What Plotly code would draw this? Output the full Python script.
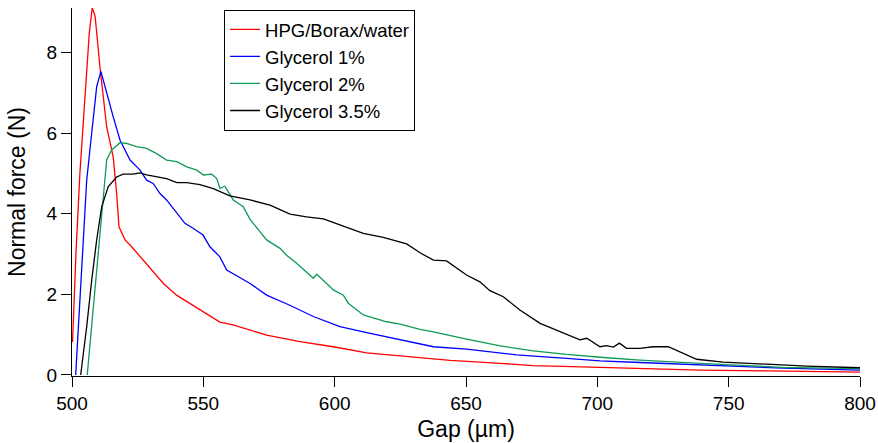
import plotly.graph_objects as go

# HPG/Borax/water
gap_hpg = [500.2, 501.5, 503.0, 505.0, 506.6, 507.7, 508.8, 510.7, 513.2, 515.7, 517.0, 517.9,
           520.2, 522.7, 527.1, 534.8, 539.8, 548.7, 556.3, 561.3, 574.1, 586.8, 599.5, 612.2,
           624.9, 632.5, 644.0, 663.0, 675.5, 701.0, 716.2, 739.0, 764.4, 800.0]
force_hpg = [0.82, 3.0, 5.0, 6.8, 8.5, 9.1, 8.9, 7.6, 6.15, 5.4, 4.5, 3.67,
             3.35, 3.18, 2.85, 2.27, 1.98, 1.63, 1.31, 1.24, 0.99, 0.83, 0.70, 0.55,
             0.48, 0.44, 0.36, 0.29, 0.23, 0.19, 0.16, 0.12, 0.10, 0.07]

# Glycerol 1%
gap_g1 = [501.4, 503.4, 505.6, 507.5, 509.4, 511.0, 513.2, 515.7, 518.3, 522.1, 525.9, 528.4,
          530.9, 533.5, 536.0, 539.9, 543.0, 546.1, 549.9, 552.5, 556.3, 558.9, 567.8, 574.1,
          582.9, 591.9, 602.0, 612.2, 624.9, 637.6, 650.2, 669.3, 688.3, 701.0, 716.2, 739.0,
          770.7, 800.0]
force_g1 = [0.0, 2.35, 4.83, 6.0, 7.15, 7.53, 6.98, 6.4, 5.82, 5.33, 5.08, 4.83,
            4.75, 4.5, 4.34, 4.0, 3.76, 3.64, 3.47, 3.18, 2.93, 2.6, 2.27, 1.98,
            1.73, 1.45, 1.2, 1.05, 0.87, 0.70, 0.64, 0.50, 0.41, 0.35, 0.31, 0.25,
            0.17, 0.12]

# Glycerol 2%
gap_g2 = [505.8, 508.1, 510.0, 511.9, 513.2, 515.1, 518.3, 520.8, 524.6, 528.4, 532.2, 536.0,
          539.9, 543.7, 547.5, 550.0, 553.2, 555.1, 556.3, 558.2, 561.4, 565.2, 567.8, 574.1,
          579.2, 581.7, 585.5, 591.9, 593.2, 599.5, 603.3, 605.2, 610.9, 619.8, 624.9, 632.5,
          637.6, 650.2, 663.0, 675.6, 688.3, 701.0, 716.2, 739.0, 770.7, 800.0]
force_g2 = [0.0, 1.69, 3.18, 4.5, 5.33, 5.58, 5.76, 5.74, 5.66, 5.62, 5.49, 5.33,
            5.29, 5.16, 5.08, 4.96, 4.98, 4.87, 4.63, 4.68, 4.34, 4.17, 3.86, 3.35,
            3.14, 2.97, 2.77, 2.40, 2.50, 2.11, 1.98, 1.78, 1.49, 1.32, 1.26, 1.13,
            1.07, 0.89, 0.72, 0.60, 0.51, 0.44, 0.37, 0.29, 0.19, 0.16]

# Glycerol 3.5%
gap_g35 = [503.3, 505.6, 507.5, 509.4, 511.3, 513.8, 517.0, 519.5, 523.3, 525.9, 528.4, 532.2,
           536.0, 539.9, 543.7, 548.7, 553.8, 560.1, 567.8, 575.4, 583.0, 589.3, 595.7, 603.3,
           610.9, 618.5, 627.4, 632.5, 637.6, 642.6, 650.2, 655.3, 659.1, 664.2, 670.5, 678.2,
           685.8, 693.4, 696.0, 701.0, 703.5, 706.1, 708.4, 711.1, 716.2, 721.3, 727.0, 731.4,
           737.8, 747.9, 764.4, 779.7, 800.0]
force_g35 = [0.0, 1.2, 2.35, 3.35, 4.17, 4.67, 4.91, 4.98, 4.98, 5.01, 4.96, 4.91,
             4.87, 4.77, 4.77, 4.72, 4.62, 4.44, 4.34, 4.21, 3.99, 3.92, 3.87, 3.69,
             3.51, 3.41, 3.25, 3.03, 2.85, 2.83, 2.48, 2.31, 2.09, 1.94, 1.61, 1.28,
             1.07, 0.87, 0.91, 0.70, 0.73, 0.69, 0.79, 0.66, 0.66, 0.70, 0.70, 0.58,
             0.39, 0.32, 0.27, 0.22, 0.18]

series = [
    ("HPG/Borax/water", gap_hpg, force_hpg, "#ff0000"),
    ("Glycerol 1%", gap_g1, force_g1, "#0000ff"),
    ("Glycerol 2%", gap_g2, force_g2, "#0f9a55"),
    ("Glycerol 3.5%", gap_g35, force_g35, "#000000"),
]

font_family = "Arial, Liberation Sans, sans-serif"

fig = go.Figure()
for name, xs, ys, color in series:
    fig.add_trace(go.Scatter(x=xs, y=ys, mode="lines", name=name,
                             line=dict(color=color, width=1.3)))

fig.update_layout(
    width=878, height=443,
    margin=dict(l=72, r=18, t=8, b=67),
    plot_bgcolor="white", paper_bgcolor="white",
    font=dict(family=font_family, size=19, color="black"),
    legend=dict(x=0.193, y=0.995, xanchor="left", yanchor="top",
                bordercolor="black", borderwidth=1, bgcolor="white",
                font=dict(size=18.5), tracegroupgap=0),
)
fig.update_xaxes(range=[500, 800], tickvals=[500, 550, 600, 650, 700, 750, 800],
                 showgrid=False, zeroline=False, showline=True, linecolor="black",
                 linewidth=1, ticks="outside", ticklen=10, tickcolor="black",
                 automargin=False, title=dict(text="Gap (µm)", standoff=8))
fig.update_yaxes(range=[-0.025, 9.1], tickvals=[0, 2, 4, 6, 8],
                 showgrid=False, zeroline=False, showline=True, linecolor="black",
                 linewidth=1, ticks="outside", ticklen=10, tickcolor="black",
                 automargin=False, title=dict(text="Normal force (N)", standoff=14))

# page has a default 8px body margin; drop it so the figure fills the window
fig.write_html("out.html", config={"displayModeBar": False},
               post_script="document.body.style.margin='0';")
